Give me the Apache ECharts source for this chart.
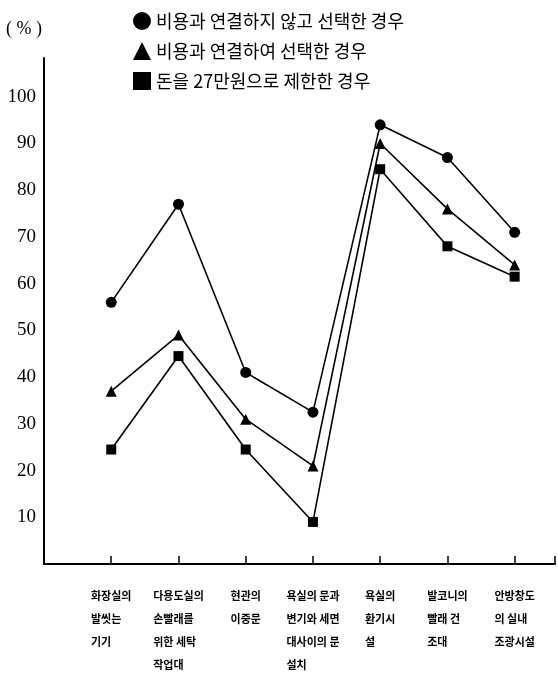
<!DOCTYPE html>
<html><head><meta charset="utf-8">
<script src="https://cdn.jsdelivr.net/npm/echarts@6/dist/echarts.min.js"></script>
<style>html,body{margin:0;padding:0;background:#fff}#c{width:558px;height:676px}</style>
</head><body><div id="c"></div>
<script>
const categories = [
  "화장실의\n발씻는\n기기",
  "다용도실의\n손빨래를\n위한 세탁\n작업대",
  "현관의\n이중문",
  "욕실의 문과\n변기와 세면\n대사이의 문\n설치",
  "욕실의\n환기시\n설",
  "발코니의\n빨래 건\n조대",
  "안방창도\n의 실내\n조광시설"
];
const seriesNames = ["비용과 연결하지 않고 선택한 경우", "비용과 연결하여 선택한 경우", "돈을 27만원으로 제한한 경우"];
const notLinked = [56, 77, 41, 32.5, 94, 87, 71];
const linked = [37, 49, 31, 21, 90, 76, 64];
const limited = [24.5, 44.5, 24.5, 9, 84.5, 68, 61.5];
const yTicks = [10, 20, 30, 40, 50, 60, 70, 80, 90, 100];

const symbols = ['circle', 'triangle', 'rect'];
const sizes = [11, 11, 10];
const values = [notLinked, linked, limited];

const chart = echarts.init(document.getElementById('c'));
chart.setOption({
  backgroundColor: '#fff',
  animation: false,
  legend: {
    orient: 'vertical', left: 128, top: 7, itemGap: 12, itemWidth: 18, itemHeight: 18,
    textStyle: { fontFamily: 'Noto Sans CJK KR', fontSize: 18, color: '#000' },
    data: seriesNames.map((n, i) => ({ name: n, icon: symbols[i], itemStyle: { color: '#000' } }))
  },
  grid: { left: 44, top: 58, width: 519, height: 508 },
  xAxis: {
    type: 'value', min: 0, max: 7.6, interval: 1,
    splitLine: { show: false },
    axisLine: { lineStyle: { color: '#000', width: 2 } },
    axisTick: { inside: true, length: 8, lineStyle: { color: '#000', width: 1.5 } },
    axisLabel: {
      margin: 20, color: '#000', fontFamily: 'Noto Sans CJK KR', fontSize: 11, fontWeight: 'bold', lineHeight: 23,
      verticalAlign: 'top',
      formatter: v => {
        if (Math.abs(v - Math.round(v)) > 1e-6) return '';
        const c = categories[Math.round(v) - 1];
        if (!c) return '';
        return c.split('\n').map(l => '{a|' + l + '}').join('\n');
      },
      rich: { a: { align: 'left', fontFamily: 'Noto Sans CJK KR', fontSize: 11, fontWeight: 'bold', lineHeight: 23, color: '#000' } }
    }
  },
  yAxis: {
    type: 'value', min: 0, max: 108.3, interval: 10,
    name: '( % )', nameLocation: 'end', nameGap: 20,
    nameTextStyle: { fontFamily: 'Liberation Serif', fontSize: 18, color: '#000', align: 'right', padding: [0, 2, 0, 0] },
    splitLine: { show: false },
    axisLine: { show: true, lineStyle: { color: '#000', width: 2 } },
    axisTick: { show: false },
    axisLabel: {
      margin: 8, color: '#000', fontFamily: 'Liberation Serif', fontSize: 19,
      formatter: v => yTicks.includes(v) ? String(v) : ''
    }
  },
  series: seriesNames.map((n, i) => ({
    name: n, type: 'line',
    data: values[i].map((v, k) => [k + 1, v]),
    symbol: symbols[i], symbolSize: sizes[i],
    color: '#000',
    lineStyle: { color: '#000', width: 1.6 },
    itemStyle: { color: '#000' }
  }))
});
</script></body></html>
